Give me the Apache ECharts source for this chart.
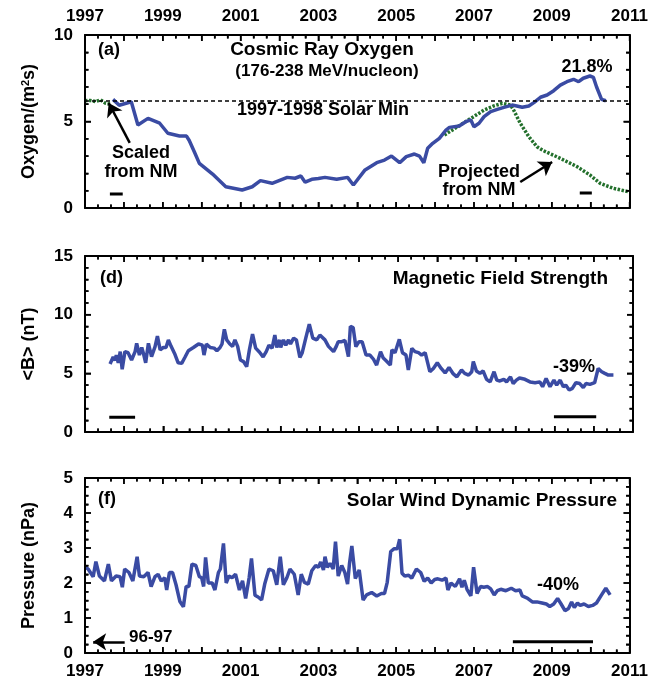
<!DOCTYPE html>
<html>
<head>
<meta charset="utf-8">
<script src="https://cdn.jsdelivr.net/npm/echarts@6/dist/echarts.min.js"></script>
<style>
  html, body { margin: 0; padding: 0; background: #fff; }
  #chart { width: 651px; height: 684px; }
</style>
</head>
<body>
<div id="chart"></div>
<script>
// year range and tick labels
var yearMin = 1997, yearMax = 2011;
var oxygenTicks = [0, 5, 10];
var fieldTicks = [0, 5, 10, 15];
var pressureTicks = [0, 1, 2, 3, 4, 5];

// (a) cosmic ray oxygen, [year, value]
var oxygen = [
  [1997.72,6.28],[1997.88,5.94],[1998.19,6.14],[1998.23,6.05],[1998.36,4.8],[1998.62,5.18],
  [1998.92,4.9],[1999.13,4.32],[1999.43,4.16],[1999.61,4.16],[1999.68,3.9],[1999.81,3.25],
  [1999.94,2.58],[2000.28,1.96],[2000.62,1.23],[2001.04,1.04],[2001.3,1.23],[2001.51,1.58],
  [2001.81,1.43],[2002.2,1.77],[2002.4,1.72],[2002.55,1.85],[2002.66,1.49],[2002.83,1.66],
  [2003.0,1.7],[2003.17,1.77],[2003.47,1.66],[2003.75,1.77],[2003.9,1.33],[2004.2,2.2],
  [2004.5,2.62],[2004.7,2.77],[2004.88,3.0],[2005.09,2.62],[2005.26,2.97],[2005.47,3.12],
  [2005.6,3.0],[2005.71,2.62],[2005.81,3.45],[2005.94,3.74],[2006.11,4.03],[2006.28,4.5],
  [2006.37,4.66],[2006.62,4.74],[2006.79,4.99],[2006.92,5.09],[2007.0,4.7],[2007.13,4.9],
  [2007.26,5.28],[2007.43,5.57],[2007.6,5.7],[2007.77,5.82],[2007.98,5.95],[2008.1,5.9],
  [2008.24,5.82],[2008.41,5.9],[2008.54,6.09],[2008.71,6.4],[2008.88,6.53],[2009.05,6.78],
  [2009.22,7.1],[2009.39,7.3],[2009.56,7.44],[2009.69,7.3],[2009.81,7.5],[2009.98,7.63],
  [2010.07,7.55],[2010.15,7.01],[2010.28,6.28],[2010.39,6.2]
];
var oxygenNmEarly = [
  [1997.0,6.2],[1997.13,6.22],[1997.27,6.15],[1997.4,6.25],[1997.53,6.05],[1997.66,6.0]
];
var oxygenNmLate = [
  [2006.24,4.22],[2006.58,4.7],[2006.92,5.18],[2007.26,5.66],[2007.51,5.9],[2007.73,6.05],
  [2007.94,5.95],[2008.02,5.66],[2008.19,4.9],[2008.41,4.12],[2008.62,3.54],[2008.79,3.31],
  [2009.22,2.87],[2009.65,2.39],[2009.98,1.91],[2010.24,1.43],[2010.58,1.14],[2010.97,0.94]
];
var solarMinLevel = 6.2;

// (d) magnetic field strength
var field = [
  [1997.64,5.8],[1997.72,6.4],[1997.77,6.1],[1997.8,6.56],[1997.85,5.9],[1997.9,6.85],
  [1997.95,5.34],[1998.02,6.85],[1998.1,6.76],[1998.19,6.14],[1998.28,6.85],[1998.32,7.56],
  [1998.39,6.56],[1998.45,7.2],[1998.5,6.6],[1998.55,5.9],[1998.62,7.56],[1998.7,6.42],
  [1998.79,7.27],[1998.85,8.18],[1998.92,7.0],[1999.0,7.2],[1999.07,7.2],[1999.13,7.85],
  [1999.2,7.3],[1999.3,6.6],[1999.38,5.9],[1999.47,5.85],[1999.55,6.35],[1999.64,6.93],
  [1999.77,7.2],[1999.9,7.5],[2000.0,7.4],[2000.04,6.56],[2000.1,7.5],[2000.2,7.2],
  [2000.3,7.15],[2000.37,6.93],[2000.45,7.2],[2000.5,7.5],[2000.56,8.75],[2000.62,7.85],
  [2000.7,7.5],[2000.77,7.3],[2000.83,7.85],[2000.9,7.3],[2000.97,6.14],[2001.05,6.0],
  [2001.13,5.57],[2001.2,7.0],[2001.28,8.35],[2001.36,7.15],[2001.46,6.8],[2001.55,6.4],
  [2001.63,6.85],[2001.7,7.4],[2001.78,7.15],[2001.85,8.26],[2001.9,7.2],[2001.97,7.85],
  [2002.0,7.2],[2002.07,7.85],[2002.13,7.4],[2002.2,7.85],[2002.25,7.5],[2002.33,8.0],
  [2002.4,7.85],[2002.49,6.35],[2002.55,6.76],[2002.64,8.0],[2002.73,9.2],[2002.82,8.0],
  [2002.92,7.85],[2003.0,8.26],[2003.13,7.85],[2003.22,7.3],[2003.35,6.85],[2003.42,7.3],
  [2003.47,7.7],[2003.56,7.7],[2003.64,7.8],[2003.73,6.42],[2003.78,9.0],[2003.85,8.9],
  [2003.92,7.27],[2004.0,7.7],[2004.08,7.7],[2004.18,6.56],[2004.28,6.56],[2004.37,6.2],
  [2004.45,5.7],[2004.55,6.85],[2004.62,6.3],[2004.7,6.05],[2004.8,5.7],[2004.84,7.0],
  [2004.92,6.76],[2005.03,7.9],[2005.11,6.76],[2005.2,6.56],[2005.26,5.28],[2005.35,7.13],
  [2005.43,6.85],[2005.52,6.76],[2005.6,6.56],[2005.69,6.76],[2005.81,5.14],[2005.9,5.42],
  [2006.0,5.9],[2006.1,5.42],[2006.2,5.03],[2006.3,5.5],[2006.41,4.95],[2006.5,4.7],
  [2006.62,5.28],[2006.7,5.0],[2006.8,4.85],[2006.88,5.14],[2006.92,6.0],[2007.0,5.2],
  [2007.09,5.0],[2007.17,5.2],[2007.26,4.49],[2007.35,4.27],[2007.45,5.14],[2007.52,4.42],
  [2007.6,4.35],[2007.7,4.49],[2007.77,4.27],[2007.87,4.7],[2007.94,4.13],[2008.02,4.42],
  [2008.1,4.6],[2008.24,4.49],[2008.37,4.27],[2008.5,4.2],[2008.62,4.27],[2008.69,3.86],
  [2008.78,4.56],[2008.88,3.86],[2008.98,4.42],[2009.05,4.0],[2009.14,4.42],[2009.22,3.86],
  [2009.28,4.0],[2009.37,3.58],[2009.45,3.72],[2009.54,4.2],[2009.64,4.13],[2009.73,3.79],
  [2009.8,4.13],[2009.9,4.06],[2010.02,4.2],[2010.11,5.42],[2010.2,5.14],[2010.28,5.0],
  [2010.37,4.85],[2010.5,4.85]
];

// (f) solar wind dynamic pressure
var pressure = [
  [1997.0,2.47],[1997.08,2.4],[1997.21,2.18],[1997.28,2.61],[1997.37,2.2],[1997.5,2.06],
  [1997.6,2.54],[1997.68,2.06],[1997.8,2.2],[1997.9,2.18],[1997.96,1.88],[1998.02,2.4],
  [1998.13,2.3],[1998.23,2.06],[1998.34,2.75],[1998.4,2.2],[1998.51,2.18],[1998.62,2.3],
  [1998.7,1.9],[1998.8,2.18],[1998.88,2.25],[1998.96,2.06],[1999.05,2.15],[1999.1,1.8],
  [1999.17,2.3],[1999.25,2.3],[1999.34,1.95],[1999.44,1.47],[1999.53,1.32],[1999.6,1.9],
  [1999.67,1.9],[1999.75,2.54],[1999.85,2.5],[1999.94,2.18],[2000.0,2.15],[2000.05,1.9],
  [2000.1,2.73],[2000.17,2.0],[2000.27,2.0],[2000.34,1.8],[2000.43,2.3],[2000.48,2.4],
  [2000.56,3.13],[2000.63,2.0],[2000.7,2.2],[2000.78,2.15],[2000.87,2.25],[2000.97,1.8],
  [2001.05,2.06],[2001.13,1.56],[2001.22,2.15],[2001.28,2.7],[2001.37,1.65],[2001.45,1.6],
  [2001.54,1.52],[2001.62,1.97],[2001.67,2.0],[2001.73,2.4],[2001.84,2.35],[2001.93,1.95],
  [2002.02,2.75],[2002.1,1.95],[2002.19,2.15],[2002.27,2.4],[2002.38,2.25],[2002.48,1.66],
  [2002.56,2.25],[2002.64,2.02],[2002.74,1.97],[2002.83,2.35],[2002.93,2.5],[2003.0,2.45],
  [2003.06,2.6],[2003.13,2.37],[2003.17,2.75],[2003.23,2.45],[2003.3,2.56],[2003.38,2.4],
  [2003.44,3.18],[2003.51,2.2],[2003.6,2.5],[2003.68,2.3],[2003.75,1.97],[2003.8,2.56],
  [2003.86,3.06],[2003.95,2.13],[2004.05,2.37],[2004.15,1.51],[2004.24,1.66],[2004.37,1.73],
  [2004.5,1.63],[2004.62,1.7],[2004.7,1.7],[2004.77,2.02],[2004.86,2.9],[2004.95,2.98],
  [2005.03,2.98],[2005.09,3.25],[2005.15,2.28],[2005.22,2.2],[2005.32,2.22],[2005.4,2.14],
  [2005.52,2.4],[2005.63,2.3],[2005.72,2.05],[2005.81,2.14],[2005.9,2.0],[2005.99,2.1],
  [2006.07,2.12],[2006.18,2.08],[2006.28,2.14],[2006.33,1.8],[2006.41,2.0],[2006.52,1.9],
  [2006.63,2.12],[2006.69,1.88],[2006.75,2.08],[2006.82,1.82],[2006.92,1.63],[2006.99,2.45],
  [2007.08,1.7],[2007.17,1.9],[2007.25,1.88],[2007.35,1.9],[2007.43,1.83],[2007.52,1.66],
  [2007.6,1.78],[2007.69,1.82],[2007.82,1.78],[2007.96,1.85],[2008.07,1.78],[2008.18,1.8],
  [2008.24,1.63],[2008.37,1.57],[2008.5,1.46],[2008.62,1.46],[2008.75,1.43],[2008.86,1.4],
  [2008.95,1.33],[2009.05,1.4],[2009.15,1.56],[2009.24,1.4],[2009.34,1.21],[2009.43,1.27],
  [2009.51,1.46],[2009.58,1.3],[2009.66,1.43],[2009.73,1.36],[2009.83,1.4],[2009.94,1.33],
  [2010.05,1.36],[2010.15,1.43],[2010.28,1.66],[2010.39,1.85],[2010.5,1.66]
];

// averaging periods (short black bars)
var oxygenBarA = [[1997.64,0.81],[1997.97,0.81]];
var oxygenBarB = [[2009.72,0.86],[2010.03,0.86]];
var fieldBarA = [[1997.62,1.25],[1998.28,1.25]];
var fieldBarB = [[2008.98,1.3],[2010.06,1.3]];
var pressureBar = [[2008.0,0.32],[2010.06,0.32]];

// arrows [from, to] in data units
var scaledArrow = [[1998.15,3.76],[1997.61,6.07]];
var projectedArrow = [[2008.19,1.5],[2009.01,2.66]];
var earlyArrow = [[1998.02,0.32],[1997.21,0.32]];

var FONT = '"Liberation Sans", Arial, Helvetica, sans-serif';
var BLUE = '#3a4ba3';
var GREEN = '#23702c';

var myChart = echarts.init(document.getElementById('chart'));

function xAxisFor(gi, pos, showLabel) {
  return {
    type: 'value', gridIndex: gi, position: pos, min: yearMin, max: yearMax, interval: 1, z: 10,
    axisLine: {show: true, onZero: false, lineStyle: {color: '#000', width: 2}},
    axisTick: {show: true, inside: true, length: 6, lineStyle: {color: '#000', width: 1.5}},
    minorTick: {show: true, splitNumber: 3, length: 3.5, lineStyle: {color: '#000', width: 1.5}},
    splitLine: {show: false},
    axisLabel: {
      show: showLabel, margin: 10, color: '#000', fontFamily: FONT, fontWeight: 'bold', fontSize: 17,
      formatter: function (v) { return (v - yearMin) % 2 === 0 ? String(v) : ''; }
    }
  };
}

function yAxisFor(gi, pos, max, interval, split, name, ticks) {
  var ax = {
    type: 'value', gridIndex: gi, position: pos, min: 0, max: max, interval: interval, z: 10,
    axisLine: {show: true, onZero: false, lineStyle: {color: '#000', width: 2}},
    axisTick: {show: true, inside: true, length: 6, lineStyle: {color: '#000', width: 1.5}},
    minorTick: {show: true, splitNumber: split, length: 3.5, lineStyle: {color: '#000', width: 1.5}},
    splitLine: {show: false},
    axisLabel: {
      show: pos === 'left', margin: 12, color: '#000', fontFamily: FONT, fontWeight: 'bold', fontSize: 17,
      formatter: function (v) { return ticks.indexOf(v) >= 0 ? String(v) : ''; }
    }
  };
  if (name) {
    ax.name = name;
    ax.nameLocation = 'middle';
    ax.nameRotate = 90;
    ax.nameGap = 47;
    ax.nameTextStyle = {
      color: '#000', fontFamily: FONT, fontWeight: 'bold', fontSize: 18,
      rich: {sup: {fontSize: 11, verticalAlign: 'top'}}
    };
  }
  return ax;
}

// inward ticks on all four sides of a panel, placed through the panel's own scales
function frameTicks(xi, yi, yMax, yStep, yMajor) {
  var items = [];
  for (var i = 0; i <= (yearMax - yearMin) * 3; i++) {
    items.push([yearMin + i / 3, 0, i % 3 === 0 ? 0 : 1]);
  }
  var n = Math.round(yMax / yStep);
  for (var j = 0; j <= n; j++) {
    var v = j * yStep;
    items.push([yearMin, v, Math.abs(v / yMajor - Math.round(v / yMajor)) < 1e-6 ? 2 : 3]);
  }
  return {
    type: 'custom', xAxisIndex: xi, yAxisIndex: yi, data: items, silent: true, clip: false, z: 5,
    encode: {x: 0, y: 1},
    renderItem: function (params, api) {
      var kind = api.value(2);
      var len = (kind === 0 || kind === 2) ? 6 : 3.5;
      var st = {stroke: '#000', lineWidth: 1.5};
      var a, b;
      if (kind < 2) {
        a = api.coord([api.value(0), 0]);
        b = api.coord([api.value(0), yMax]);
        return {type: 'group', children: [
          {type: 'line', shape: {x1: a[0], y1: a[1], x2: a[0], y2: a[1] - len}, style: st},
          {type: 'line', shape: {x1: b[0], y1: b[1], x2: b[0], y2: b[1] + len}, style: st}
        ]};
      }
      a = api.coord([yearMin, api.value(1)]);
      b = api.coord([yearMax, api.value(1)]);
      return {type: 'group', children: [
        {type: 'line', shape: {x1: a[0], y1: a[1], x2: a[0] + len, y2: a[1]}, style: st},
        {type: 'line', shape: {x1: b[0], y1: b[1], x2: b[0] - len, y2: b[1]}, style: st}
      ]};
    }
  };
}

function barSeries(data, xi, yi) {
  return {
    type: 'line', xAxisIndex: xi, yAxisIndex: yi, data: data, symbol: 'none', silent: true,
    lineStyle: {color: '#000', width: 3}, z: 4
  };
}

function arrowLine(pair) {
  return {
    silent: true, symbol: ['none', 'arrow'], symbolSize: 13,
    label: {show: false},
    lineStyle: {color: '#000', width: 2.5, type: 'solid'},
    itemStyle: {color: '#000'},
    data: [[{coord: pair[0]}, {coord: pair[1]}]]
  };
}

function note(x, y, str, align, size) {
  return {
    type: 'text', x: x, y: y, silent: true,
    style: {
      text: str, fill: '#000', font: 'bold ' + (size || 18) + 'px ' + FONT,
      textAlign: align || 'center', textVerticalAlign: 'middle'
    }
  };
}

var chartOption = {
  animation: false,
  title: {show: false},
  grid: [
    {left: 85, width: 548, top: 35, height: 173},
    {left: 85, width: 548, top: 256, height: 176},
    {left: 85, width: 548, top: 478, height: 175}
  ],
  xAxis: [
    xAxisFor(0, 'bottom', false), xAxisFor(0, 'top', true),
    xAxisFor(1, 'bottom', false), xAxisFor(1, 'top', false),
    xAxisFor(2, 'bottom', true), xAxisFor(2, 'top', false)
  ],
  yAxis: [
    yAxisFor(0, 'left', 10, 5, 5, 'Oxygen/(m{sup|2}s)', oxygenTicks), yAxisFor(0, 'right', 10, 5, 5, null, oxygenTicks),
    yAxisFor(1, 'left', 15, 5, 5, '<B> (nT)', fieldTicks), yAxisFor(1, 'right', 15, 5, 5, null, fieldTicks),
    yAxisFor(2, 'left', 5, 1, 4, 'Pressure (nPa)', pressureTicks), yAxisFor(2, 'right', 5, 1, 4, null, pressureTicks)
  ],
  series: [
    frameTicks(0, 0, 10, 1, 5),
    frameTicks(2, 2, 15, 1, 5),
    frameTicks(4, 4, 5, 0.25, 1),
    {
      type: 'line', xAxisIndex: 0, yAxisIndex: 0, data: oxygenNmEarly, symbol: 'none', z: 2,
      lineStyle: {color: GREEN, width: 3.5, type: [2.5, 1.5]}
    },
    {
      type: 'line', xAxisIndex: 0, yAxisIndex: 0, data: oxygenNmLate, symbol: 'none', z: 2,
      lineStyle: {color: GREEN, width: 3.5, type: [2.5, 1.5]}
    },
    {
      type: 'line', xAxisIndex: 0, yAxisIndex: 0, data: oxygen, symbol: 'none', z: 3,
      lineStyle: {color: BLUE, width: 3.5},
      markLine: {
        silent: true, symbol: 'none', label: {show: false},
        lineStyle: {color: '#000', width: 1.5, type: [4, 3]},
        data: [{yAxis: solarMinLevel}]
      }
    },
    Object.assign(barSeries(oxygenBarA, 0, 0), {markLine: arrowLine(scaledArrow)}),
    Object.assign(barSeries(oxygenBarB, 0, 0), {markLine: arrowLine(projectedArrow)}),
    {
      type: 'line', xAxisIndex: 2, yAxisIndex: 2, data: field, symbol: 'none', z: 3,
      lineStyle: {color: BLUE, width: 3.5}
    },
    barSeries(fieldBarA, 2, 2),
    barSeries(fieldBarB, 2, 2),
    {
      type: 'line', xAxisIndex: 4, yAxisIndex: 4, data: pressure, symbol: 'none', z: 3,
      lineStyle: {color: BLUE, width: 3.5}
    },
    Object.assign(barSeries(pressureBar, 4, 4), {markLine: arrowLine(earlyArrow)})
  ],
  graphic: [
    note(98, 50, '(a)', 'left'),
    note(322, 50, 'Cosmic Ray Oxygen', 'center', 19),
    note(327, 71, '(176-238 MeV/nucleon)', 'center', 17),
    note(323, 110, '1997-1998 Solar Min', 'center'),
    note(141, 153, 'Scaled', 'center'),
    note(141, 172, 'from NM', 'center'),
    note(479, 172, 'Projected', 'center'),
    note(479, 190, 'from NM', 'center'),
    note(587, 67, '21.8%', 'center'),
    note(100, 278, '(d)', 'left'),
    note(608, 279, 'Magnetic Field Strength', 'right', 19),
    note(574, 367, '-39%', 'center'),
    note(98, 499, '(f)', 'left'),
    note(617, 501, 'Solar Wind Dynamic Pressure', 'right', 19),
    note(558, 585, '-40%', 'center'),
    note(129, 637, '96-97', 'left', 17)
  ]
};

myChart.setOption(chartOption);
</script>
</body>
</html>
